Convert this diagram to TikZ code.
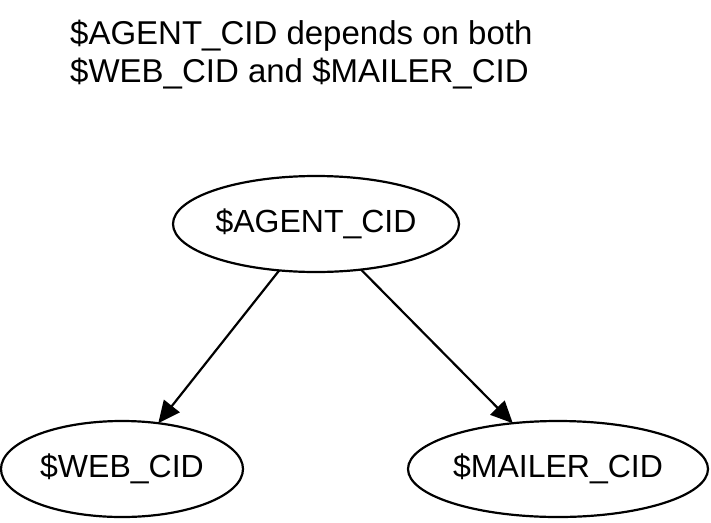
\documentclass[tikz,border=0pt]{standalone}
\usepackage{fontspec}
\setmainfont{Liberation Sans}
\usepackage{tikz}
\usetikzlibrary{arrows.meta,shapes.geometric}
\tikzset{
  cid/.style={draw=black, ellipse, line width=2.2pt, inner sep=0pt, outer sep=0pt,
    font=\fontsize{32}{38}\selectfont},
  dep/.style={draw=black, line width=2.2pt, -{Triangle[length=22pt,width=20pt]}},
  note/.style={align=left, inner sep=0pt, font=\fontsize{33}{38}\selectfont},
}
\begin{document}
\begin{tikzpicture}[x=1pt, y=-1pt]
  \useasboundingbox (0,0) rectangle (711,522);
  \node[note, anchor=north west] (caption) at (70,20) {\$AGENT\_CID depends on both\\\$WEB\_CID and \$MAILER\_CID};
  \node[cid, minimum width=286pt, minimum height=96pt] (agent) at (316,224) {\$AGENT\_CID};
  \node[cid, minimum width=242pt, minimum height=96pt] (web) at (122,469) {\$WEB\_CID};
  \node[cid, minimum width=300pt, minimum height=96pt] (mailer) at (558,469) {\$MAILER\_CID};
  \draw[dep] (agent) -- (web);
  \draw[dep] (agent) -- (mailer);
\end{tikzpicture}
\end{document}
